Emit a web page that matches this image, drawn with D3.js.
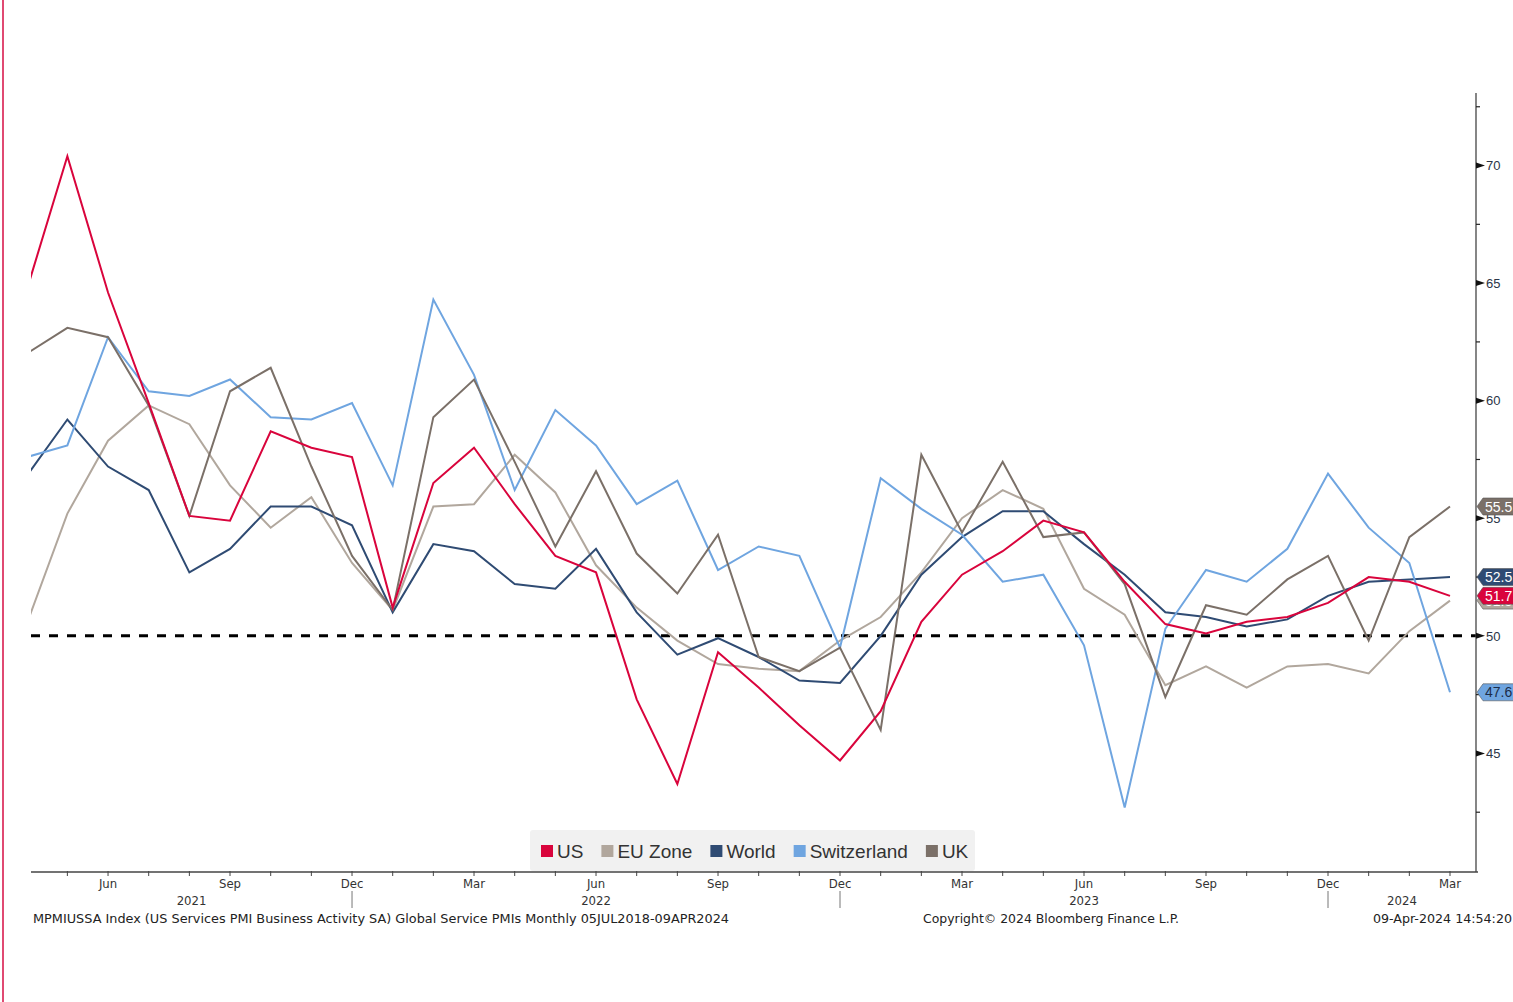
<!DOCTYPE html>
<html>
<head>
<meta charset="utf-8">
<script src="https://cdn.jsdelivr.net/npm/d3@7"></script>
<style>
    body { margin: 0; background: #fff; }
    svg { display: block; }
    text { font-family: "Liberation Sans", Arial, sans-serif; }
    .narrow { font-family: "Liberation Sans Narrow", "DejaVu Sans Condensed", sans-serif; }
</style>
</head>
<body>
<div id="chart"></div>
<script>
// Monthly service PMIs, Apr 2021 .. Mar 2024
const months = [
    '2021-04', '2021-05', '2021-06', '2021-07', '2021-08', '2021-09', '2021-10', '2021-11', '2021-12',
    '2022-01', '2022-02', '2022-03', '2022-04', '2022-05', '2022-06', '2022-07', '2022-08', '2022-09',
    '2022-10', '2022-11', '2022-12', '2023-01', '2023-02', '2023-03', '2023-04', '2023-05', '2023-06',
    '2023-07', '2023-08', '2023-09', '2023-10', '2023-11', '2023-12', '2024-01', '2024-02', '2024-03'
];

const usValues = [64.7, 70.4, 64.6, 59.9, 55.1, 54.9, 58.7, 58.0, 57.6, 51.2, 56.5, 58.0,
    55.6, 53.4, 52.7, 47.3, 43.7, 49.3, 47.8, 46.2, 44.7, 46.8, 50.6, 52.6,
    53.6, 54.9, 54.4, 52.3, 50.5, 50.1, 50.6, 50.8, 51.4, 52.5, 52.3, 51.7];

const euValues = [50.5, 55.2, 58.3, 59.8, 59.0, 56.4, 54.6, 55.9, 53.1, 51.1, 55.5, 55.6,
    57.7, 56.1, 53.0, 51.2, 49.8, 48.8, 48.6, 48.5, 49.8, 50.8, 52.7, 55.0,
    56.2, 55.4, 52.0, 50.9, 47.9, 48.7, 47.8, 48.7, 48.8, 48.4, 50.2, 51.5];

const worldValues = [56.8, 59.2, 57.2, 56.2, 52.7, 53.7, 55.5, 55.5, 54.7, 51.0, 53.9, 53.6,
    52.2, 52.0, 53.7, 51.0, 49.2, 49.9, 49.1, 48.1, 48.0, 50.0, 52.6, 54.2,
    55.3, 55.3, 53.9, 52.6, 51.0, 50.8, 50.4, 50.7, 51.7, 52.3, 52.4, 52.5];

const swissValues = [57.6, 58.1, 62.7, 60.4, 60.2, 60.9, 59.3, 59.2, 59.9, 56.4, 64.3, 61.1,
    56.2, 59.6, 58.1, 55.6, 56.6, 52.8, 53.8, 53.4, 49.5, 56.7, 55.4, 54.3,
    52.3, 52.6, 49.6, 42.7, 50.3, 52.8, 52.3, 53.7, 56.9, 54.6, 53.1, 47.6];

const ukValues = [62.0, 63.1, 62.7, 59.8, 55.1, 60.4, 61.4, 57.2, 53.4, 51.1, 59.3, 60.9,
    57.4, 53.8, 57.0, 53.5, 51.8, 54.3, 49.1, 48.5, 49.5, 46.0, 57.7, 54.4,
    57.4, 54.2, 54.4, 52.2, 47.4, 51.3, 50.9, 52.4, 53.4, 49.8, 54.2, 55.5];

const seriesNames = ['US', 'EU Zone', 'World', 'Switzerland', 'UK'];
const yTicks = [45, 50, 55, 60, 65, 70];
const yMinorTicks = [42.5, 47.5, 52.5, 57.5, 62.5, 67.5, 72.5];
const quarterLabels = { '06': 'Jun', '09': 'Sep', '12': 'Dec', '03': 'Mar' };
const years = ['2021', '2022', '2023', '2024'];
const refLevel = 50;

const colors = {
    'US': '#d9043c',
    'EU Zone': '#b1a79d',
    'World': '#2f4b73',
    'Switzerland': '#6fa5e0',
    'UK': '#7b7068'
};

const series = [
    { name: 'EU Zone', values: euValues },
    { name: 'World', values: worldValues },
    { name: 'Switzerland', values: swissValues },
    { name: 'UK', values: ukValues },
    { name: 'US', values: usValues }
];

const width = 1513, height = 1002;
const plot = { left: 31, right: 1476, top: 95, bottom: 871 };

const svg = d3.select('#chart').append('svg')
    .attr('width', width)
    .attr('height', height);

svg.append('rect').attr('width', width).attr('height', height).attr('fill', '#fff');

// pink page edge
svg.append('line')
    .attr('x1', 3).attr('x2', 3).attr('y1', 0).attr('y2', height)
    .attr('stroke', '#e04a72').attr('stroke-width', 2);

const x = d3.scalePoint()
    .domain(months)
    .range([26.7, 1450]);

const y = d3.scaleLinear()
    .domain([40, 73])
    .range([plot.bottom, plot.top]);

svg.append('clipPath').attr('id', 'plotClip')
    .append('rect')
    .attr('x', plot.left).attr('y', plot.top)
    .attr('width', plot.right - plot.left).attr('height', plot.bottom - plot.top);

// 50 reference line
svg.append('line')
    .attr('x1', plot.left).attr('x2', plot.right)
    .attr('y1', y(refLevel)).attr('y2', y(refLevel))
    .attr('stroke', '#000')
    .attr('stroke-width', 3)
    .attr('stroke-dasharray', '9,9');

// series lines
const line = d3.line()
    .x((d, i) => x(months[i]))
    .y(d => y(d));

svg.append('g').attr('clip-path', 'url(#plotClip)')
    .selectAll('path')
    .data(series)
    .join('path')
    .attr('d', d => line(d.values))
    .attr('fill', 'none')
    .attr('stroke', d => colors[d.name])
    .attr('stroke-width', 2)
    .attr('stroke-linejoin', 'miter');

// right axis
const yAxisG = svg.append('g');
yAxisG.append('line')
    .attr('x1', plot.right).attr('x2', plot.right)
    .attr('y1', plot.top - 2).attr('y2', plot.bottom + 1)
    .attr('stroke', '#444').attr('stroke-width', 1.3);

yAxisG.selectAll('.minor')
    .data(yMinorTicks)
    .join('line')
    .attr('x1', plot.right).attr('x2', plot.right + 4)
    .attr('y1', d => y(d)).attr('y2', d => y(d))
    .attr('stroke', '#222').attr('stroke-width', 1.2);

yAxisG.selectAll('.major')
    .data(yTicks)
    .join('path')
    .attr('d', d => `M${plot.right},${y(d) - 3}L${plot.right + 9},${y(d)}L${plot.right},${y(d) + 3}Z`)
    .attr('fill', '#111');

yAxisG.selectAll('.ylab')
    .data(yTicks)
    .join('text')
    .attr('x', plot.right + 10)
    .attr('y', d => y(d))
    .attr('dy', '0.36em')
    .attr('font-size', 13)
    .attr('fill', '#2b3547')
    .text(d => d);

// bottom axis
const xAxisG = svg.append('g');
xAxisG.append('line')
    .attr('x1', plot.left).attr('x2', plot.right + 2)
    .attr('y1', plot.bottom + 1).attr('y2', plot.bottom + 1)
    .attr('stroke', '#444').attr('stroke-width', 1.3);

xAxisG.selectAll('.xtick')
    .data(months.filter(m => x(m) > plot.left))
    .join('line')
    .attr('x1', d => x(d)).attr('x2', d => x(d))
    .attr('y1', plot.bottom).attr('y2', plot.bottom + 5)
    .attr('stroke', '#444').attr('stroke-width', 1);

xAxisG.selectAll('.xlab')
    .data(months.filter(m => quarterLabels[m.slice(5)]))
    .join('text')
    .attr('class', 'narrow')
    .attr('x', d => x(d))
    .attr('y', 888)
    .attr('text-anchor', 'middle')
    .attr('font-size', 13)
    .attr('fill', '#333')
    .text(d => quarterLabels[d.slice(5)]);

// year separators at December
const decembers = months.filter(m => m.endsWith('-12'));
xAxisG.selectAll('.ysep')
    .data(decembers)
    .join('line')
    .attr('x1', d => x(d)).attr('x2', d => x(d))
    .attr('y1', 891).attr('y2', 908)
    .attr('stroke', '#777').attr('stroke-width', 1);

const bounds = [plot.left, ...decembers.map(d => x(d)), plot.right];
xAxisG.selectAll('.year')
    .data(years)
    .join('text')
    .attr('class', 'narrow')
    .attr('x', (d, i) => (bounds[i] + bounds[i + 1]) / 2)
    .attr('y', 905)
    .attr('text-anchor', 'middle')
    .attr('font-size', 13)
    .attr('fill', '#333')
    .text(d => d);

// last-value badges
const badgeOrder = ['EU Zone', 'World', 'US', 'UK', 'Switzerland'];
const valuesByName = {
    'US': usValues, 'EU Zone': euValues, 'World': worldValues,
    'Switzerland': swissValues, 'UK': ukValues
};
const badges = svg.append('g').selectAll('g')
    .data(badgeOrder)
    .join('g')
    .attr('transform', d => `translate(${plot.right + 1},${y(valuesByName[d][35])})`);

badges.append('path')
    .attr('d', 'M0,0L6,-8.5L40,-8.5L40,8.5L6,8.5Z')
    .attr('fill', d => colors[d])
    .attr('stroke', '#555')
    .attr('stroke-width', 0.6);

badges.append('text')
    .attr('x', 8)
    .attr('dy', '0.36em')
    .attr('font-size', 14)
    .attr('fill', d => d === 'Switzerland' ? '#1c2c48' : '#fff')
    .text(d => valuesByName[d][35].toFixed(1));

// legend
const legend = svg.append('g');
legend.append('rect')
    .attr('x', 530).attr('y', 830)
    .attr('width', 445).attr('height', 41)
    .attr('rx', 3)
    .attr('fill', '#f1f1f1');

let lx = 541;
seriesNames.forEach(name => {
    legend.append('rect')
        .attr('x', lx).attr('y', 845)
        .attr('width', 12).attr('height', 12)
        .attr('fill', colors[name]);
    const t = legend.append('text')
        .attr('x', lx + 16)
        .attr('y', 858)
        .attr('font-size', 19)
        .attr('fill', '#333')
        .text(name);
    lx += 16 + t.node().getComputedTextLength() + 18;
});

// footer
svg.append('text')
    .attr('class', 'narrow')
    .attr('x', 33).attr('y', 923)
    .attr('font-size', 12.5)
    .attr('fill', '#222')
    .attr('textLength', 696)
    .attr('lengthAdjust', 'spacingAndGlyphs')
    .text('MPMIUSSA Index (US Services PMI Business Activity SA) Global Service PMIs  Monthly 05JUL2018-09APR2024');

svg.append('text')
    .attr('class', 'narrow')
    .attr('x', 923).attr('y', 923)
    .attr('font-size', 12.5)
    .attr('fill', '#222')
    .attr('textLength', 256)
    .attr('lengthAdjust', 'spacingAndGlyphs')
    .text('Copyright\u00a9 2024 Bloomberg Finance L.P.');

svg.append('text')
    .attr('class', 'narrow')
    .attr('x', 1373).attr('y', 923)
    .attr('font-size', 12.5)
    .attr('fill', '#222')
    .attr('textLength', 139)
    .attr('lengthAdjust', 'spacingAndGlyphs')
    .text('09-Apr-2024 14:54:20');
</script>
</body>
</html>
